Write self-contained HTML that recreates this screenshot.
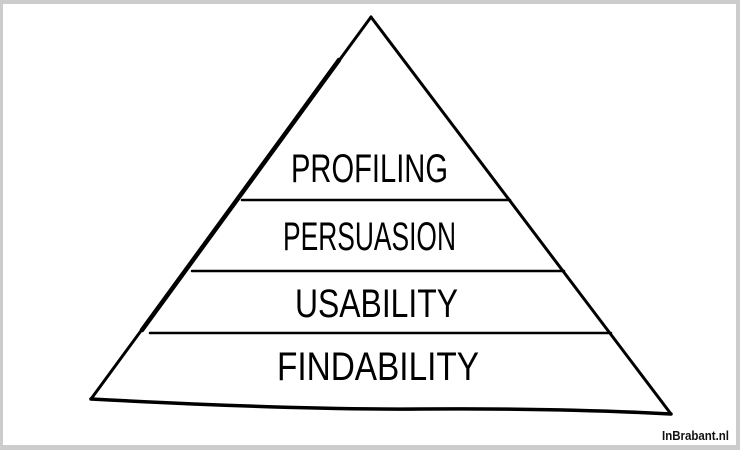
<!DOCTYPE html>
<html><head><meta charset="utf-8"><style>
html,body{margin:0;padding:0;background:#fff}
svg{display:block}
</style></head><body>
<svg width="740" height="450" viewBox="0 0 740 450" xmlns="http://www.w3.org/2000/svg">
<rect x="0" y="0" width="740" height="450" fill="#cccccc"/>
<rect x="3" y="4" width="733" height="441" fill="#ffffff"/>
<g stroke="#000" fill="none" stroke-linecap="round">
<path d="M371 17 L91 399" stroke-width="3"/>
<path d="M339 60 L142 330" stroke-width="4.5"/>
<path d="M371 17 L671 414" stroke-width="3"/>
<path d="M91 399 Q300 410 420 409 Q560 408 671 414" stroke-width="3.5"/>
<path d="M242 200 L510 200" stroke-width="2.5"/>
<path d="M192 271 L564 271" stroke-width="2.5"/>
<path d="M150 333 L611 333" stroke-width="2.5"/>
</g>
<g font-family="'Liberation Sans Narrow','Liberation Sans',sans-serif" font-size="40" fill="#000">
<text x="291" y="182" textLength="157" lengthAdjust="spacingAndGlyphs">PROFILING</text>
<text x="283" y="250" textLength="173" lengthAdjust="spacingAndGlyphs">PERSUASION</text>
<text x="295" y="317" textLength="163" lengthAdjust="spacingAndGlyphs">USABILITY</text>
<text x="277" y="380" textLength="202" lengthAdjust="spacingAndGlyphs">FINDABILITY</text>
</g>
<text x="662" y="440" font-family="'Liberation Sans',sans-serif" font-weight="bold" font-size="13" textLength="67" lengthAdjust="spacingAndGlyphs" fill="#111">InBrabant.nl</text>
</svg>
</body></html>
